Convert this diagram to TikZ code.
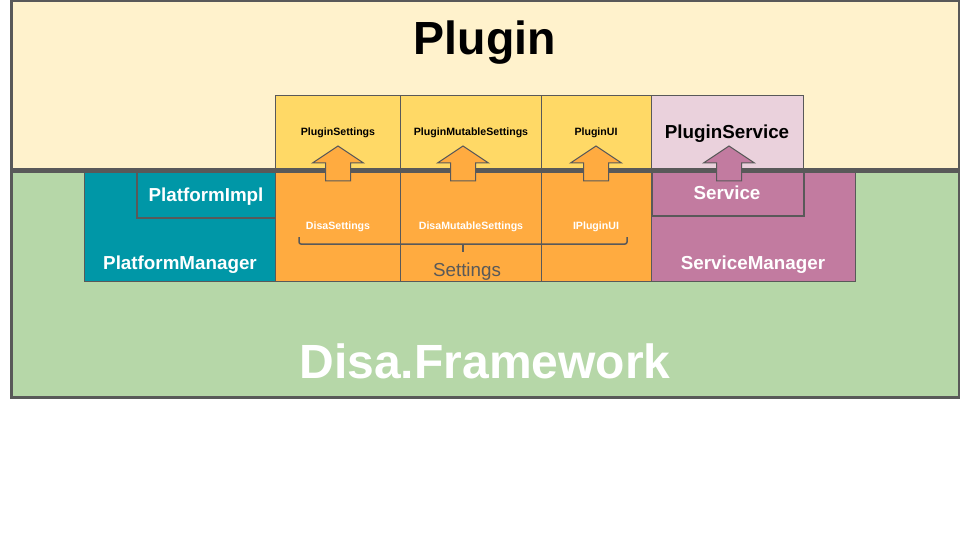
\documentclass[tikz,border=0pt]{standalone}
\usepackage{fontspec}
\setmainfont{Liberation Sans}
\definecolor{plugbg}{HTML}{FFF2CC}
\definecolor{fwbg}{HTML}{B6D7A8}
\definecolor{yel}{HTML}{FFD966}
\definecolor{ora}{HTML}{FFAB40}
\definecolor{teal}{HTML}{0097A7}
\definecolor{pinklt}{HTML}{EAD1DC}
\definecolor{mag}{HTML}{C27BA0}
\definecolor{bord}{HTML}{595959}
\tikzset{
  box/.style={draw=bord, line width=1pt, inner sep=0pt, anchor=north west},
  frame/.style={draw=bord, line width=3pt},
  small/.style={font=\fontsize{10.6}{12}\selectfont\bfseries, inner sep=0pt, anchor=base},
  mid/.style={font=\fontsize{18.8}{21}\selectfont\bfseries, inner sep=0pt, anchor=base},
  upblock/.pic={\path[draw=bord, line width=1pt, fill=#1]
     (0,0) -- (25.5,17) -- (12.5,17) -- (12.5,35) -- (-12.5,35) -- (-12.5,17) -- (-25.5,17) -- cycle;},
}
\begin{document}
\begin{tikzpicture}[x=1pt,y=-1pt]
\useasboundingbox[fill=white] (0,0) rectangle (960,540);
% backgrounds
\fill[plugbg] (11.5,1) rectangle (959,170);
\fill[fwbg] (11.5,170) rectangle (959,397);
% plugin row
\node[box, fill=yel, minimum width=125pt, minimum height=75pt] (psbox) at (275,95) {};
\node[box, fill=yel, minimum width=141pt, minimum height=75pt] (pmsbox) at (400,95) {};
\node[box, fill=yel, minimum width=110pt, minimum height=75pt] (puibox) at (541,95) {};
\node[box, fill=pinklt, minimum width=152pt, minimum height=75pt] (psvbox) at (651,95) {};
% framework row
\node[box, fill=teal, minimum width=191pt, minimum height=111pt] (pmbox) at (84,170) {};
\node[box, fill=teal, line width=1.5pt, minimum width=139pt, minimum height=47pt] (pibox) at (136,170) {};
\node[box, fill=ora, minimum width=125pt, minimum height=111pt] (dsbox) at (275,170) {};
\node[box, fill=ora, minimum width=141pt, minimum height=111pt] (dmsbox) at (400,170) {};
\node[box, fill=ora, minimum width=110pt, minimum height=111pt] (iuibox) at (541,170) {};
\node[box, fill=mag, minimum width=204pt, minimum height=111pt] (smbox) at (651,170) {};
\node[box, fill=mag, line width=1.5pt, minimum width=152pt, minimum height=45pt] (svbox) at (651,170) {};
% frames
\draw[frame] (11.5,1) rectangle (959,169.5);
\draw[frame] (11.5,171.5) rectangle (959,397);
% arrows
\pic at (338,146) {upblock=ora};
\pic at (463,146) {upblock=ora};
\pic at (596,146) {upblock=ora};
\pic at (729,146) {upblock=mag};
% brace
\coordinate (bl) at (299,237);
\coordinate (br) at (627,237);
\coordinate (bm) at (463,252);
\draw[bord, line width=1.5pt, rounded corners=2pt] (bl) -- (299,244) -- (627,244) -- (br);
\draw[bord, line width=1.5pt] (463,244) -- (bm);
% texts
\node[font=\fontsize{46.5}{50}\selectfont\bfseries, inner sep=0pt, anchor=base] (plugin) at (485,55) {Plugin};
\node[font=\fontsize{48}{52}\selectfont\bfseries, text=white, inner sep=0pt, anchor=base] (fw) at (485,378) {Disa.Framework};
\node[small] (t1) at (338,135.5) {PluginSettings};
\node[small] (t2) at (471,135.5) {PluginMutableSettings};
\node[small] (t3) at (596,135.5) {PluginUI};
\node[mid] (t4) at (727,139) {PluginService};
\node[small, text=white] (t5) at (338,229.5) {DisaSettings};
\node[small, text=white] (t6) at (471,229.5) {DisaMutableSettings};
\node[small, text=white] (t7) at (596,229.5) {IPluginUI};
\node[mid, text=white] (t8) at (206,201) {PlatformImpl};
\node[mid, text=white] (t9) at (180,269) {PlatformManager};
\node[mid, text=white] (t10) at (727,200) {Service};
\node[mid, text=white] (t11) at (753,269.5) {ServiceManager};
\node[font=\fontsize{18.8}{21}\selectfont, text=bord, inner sep=0pt, anchor=base] (t12) at (467,276) {Settings};
\end{tikzpicture}
\end{document}
